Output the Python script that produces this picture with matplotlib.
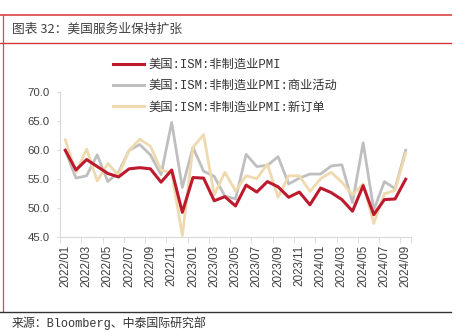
import matplotlib
matplotlib.use("Agg")
import matplotlib.pyplot as plt
import pandas as pd
from matplotlib.lines import Line2D

months = [p.strftime("%Y/%m") for p in pd.period_range("2022-01", "2024-09", freq="M")]

pmi = [59.9, 56.5, 58.3, 57.1, 55.9, 55.3, 56.7, 56.9, 56.7, 54.4, 56.5, 49.2,
       55.2, 55.1, 51.2, 51.9, 50.3, 53.9, 52.7, 54.5, 53.6, 51.8, 52.7, 50.5,
       53.4, 52.6, 51.4, 49.4, 53.8, 48.8, 51.4, 51.5, 54.9]
activity = [59.9, 55.1, 55.5, 59.1, 54.5, 56.1, 59.9, 60.9, 59.1, 55.7, 64.7, 53.5,
            60.4, 56.3, 55.4, 52.0, 51.5, 59.2, 57.1, 57.3, 58.8, 54.1, 55.1, 55.8,
            55.8, 57.2, 57.4, 50.9, 61.2, 49.6, 54.5, 53.3, 59.9]
new_orders = [61.7, 56.1, 60.1, 54.6, 57.6, 55.6, 59.9, 61.8, 60.6, 56.5, 56.0, 45.2,
              60.4, 62.6, 52.2, 56.1, 52.9, 55.5, 55.0, 57.5, 51.8, 55.5, 55.5, 52.8,
              55.0, 56.1, 54.4, 52.2, 54.1, 47.3, 52.4, 53.0, 59.4]

labels = ["美国:ISM:非制造业PMI", "美国:ISM:非制造业PMI:商业活动", "美国:ISM:非制造业PMI:新订单"]
colors = ["#BE1A2E", "#BFBFBF", "#EFD9AE"]

cjk_sans = ["Noto Sans CJK SC", "DejaVu Sans"]
cjk_song = ["Liberation Mono", "Noto Sans CJK SC"]

fig = plt.figure(figsize=(4.67, 3.30), dpi=100)
W, H = 467.0, 330.0

ax = fig.add_axes([60 / W, 1 - 236.7 / H, 351 / W, 145 / H])
x = list(range(len(months)))
ax.plot(x, activity, color=colors[1], lw=2.0, zorder=2)
ax.plot(x, new_orders, color=colors[2], lw=2.0, zorder=3)
ax.plot(x, pmi, color=colors[0], lw=2.2, zorder=4)

ax.set_xlim(-0.5, len(months) - 0.5)
ax.set_ylim(45, 70)
ax.set_yticks([45, 50, 55, 60, 65, 70])
ax.set_yticklabels(["%.1f" % v for v in [45, 50, 55, 60, 65, 70]])
ax.set_xticks(x[::2])
ax.set_xticklabels(months[::2], rotation=90)
ax.set_xticks([i - 0.5 for i in x[::2]] + [len(months) - 0.5], minor=True)

for s in ["top", "right"]:
    ax.spines[s].set_visible(False)
for s in ["left", "bottom"]:
    ax.spines[s].set_color("#D9D9D9")
    ax.spines[s].set_linewidth(0.8)
ax.tick_params(axis="y", length=2.5, color="#D9D9D9", pad=5, labelsize=8.2, labelcolor="#404040")
ax.tick_params(axis="x", which="major", length=0, pad=6, labelsize=8.4, labelcolor="#404040")
ax.tick_params(axis="x", which="minor", length=4, color="#D9D9D9")
for t in ax.get_xticklabels() + ax.get_yticklabels():
    t.set_family(["Liberation Sans", "DejaVu Sans"])

handles = [Line2D([], [], color=c, lw=2.2) for c in colors]
fig.legend(handles, labels, loc="upper left", bbox_to_anchor=(113 / W, 1 - 59 / H),
           frameon=False, borderpad=0, borderaxespad=0, handlelength=2.5,
           handletextpad=0.4, labelspacing=0.75,
           prop={"family": cjk_song, "size": 8.8})
for t in fig.legends[0].get_texts():
    t.set_color("#333333")

# header / footer frame
fig.add_artist(Line2D([0, 451 / W], [1 - 14.5 / H] * 2, color="#E06060", lw=1.4))
fig.add_artist(Line2D([0, 451 / W], [1 - 42.8 / H] * 2, color="#D03A3A", lw=1.0))
fig.add_artist(Line2D([2.8 / W] * 2, [1 - 14.5 / H, 1 - 311 / H], color="#E04848", lw=0.9))
fig.add_artist(Line2D([0, 451 / W], [1 - 311.5 / H] * 2, color="#333333", lw=1.0))

fig.text(12 / W, 1 - 29 / H, "图表 32：美国服务业保持扩张", family=cjk_sans, size=9.2,
         color="#404040", va="center", ha="left")
fig.text(12 / W, 1 - 323 / H, "来源：Bloomberg、中泰国际研究部", family=cjk_song, size=8.6,
         color="#333333", va="center", ha="left")

fig.savefig("out.png", dpi=100)
